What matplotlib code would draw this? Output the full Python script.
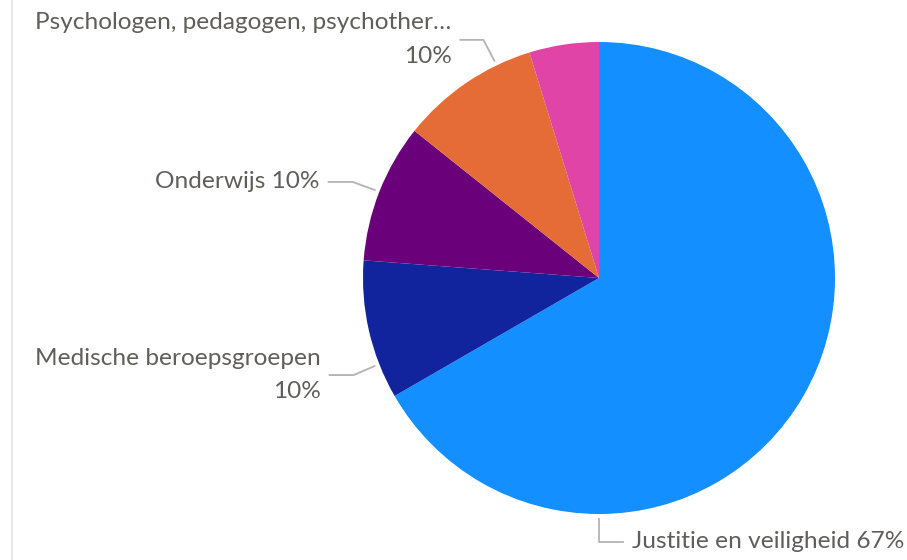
import numpy as np
import matplotlib.pyplot as plt
from matplotlib.lines import Line2D

# respondents per field of work
labels = ["Justitie en veiligheid", "Medische beroepsgroepen", "Onderwijs",
          "Psychologen, pedagogen, psychother…", None]
counts = [14, 2, 2, 2, 1]
colors = ["#148FFF", "#12239E", "#6B007B", "#E66C37", "#E044A7"]

W, H = 907, 560
def py(y):
    return H - y

fig = plt.figure(figsize=(W / 100, H / 100), dpi=100)
ax = fig.add_axes([0, 0, 1, 1])

cx, cy, R = 599, py(278), 236
wedges, _ = ax.pie(counts, colors=colors, startangle=90, counterclock=False,
                   center=(cx, cy), radius=R, frame=True,
                   wedgeprops=dict(linewidth=0))
ax.set_xlim(0, W)
ax.set_ylim(0, H)
ax.set_aspect("equal")
ax.axis("off")

pct = [round(100 * c / sum(counts)) for c in counts]

# where along each wedge (clockwise) the leader starts, elbow offset, horizontal run
leaders = [
    dict(frac=0.75, elbow=(0, -23), run=24, text="{name} {p}%"),
    dict(frac=0.25, elbow=(-21, -9), run=-24, text="{name}\n{p}%"),
    dict(frac=0.5, elbow=(-22, 8), run=-24, text="{name} {p}%"),
    dict(frac=0.75, elbow=(-11, 21), run=-23, text="{name}\n{p}%"),
]

txt_kw = dict(color="#605E5C", fontsize=17.6, family="Lato", linespacing=1.75)
line_kw = dict(color="#B3B3B3", linewidth=1.3)

for w, name, p, ld in zip(wedges, labels, pct, leaders):
    # clockwise wedges run from theta2 down to theta1
    t1, t2 = w.theta1, w.theta2
    ang = np.deg2rad(t2 - (t2 - t1) * ld["frac"])
    x0 = cx + (R + 5) * np.cos(ang)
    y0 = cy + (R + 5) * np.sin(ang)
    x1, y1 = x0 + ld["elbow"][0], y0 + ld["elbow"][1]
    x2 = x1 + ld["run"]
    ax.add_line(Line2D([x0, x1, x2], [y0, y1, y1], **line_kw))
    ha = "left" if ld["run"] > 0 else "right"
    tx = x2 + (9 if ld["run"] > 0 else -9)
    ax.text(tx, y1, ld["text"].format(name=name, p=p), ha=ha, va="center",
            multialignment=ha, **txt_kw)

# thin frame line at the left edge
ax.add_line(Line2D([12, 12], [0, H], color="#E8E8E8", linewidth=1.5))

fig.savefig("out.png", dpi=100)
